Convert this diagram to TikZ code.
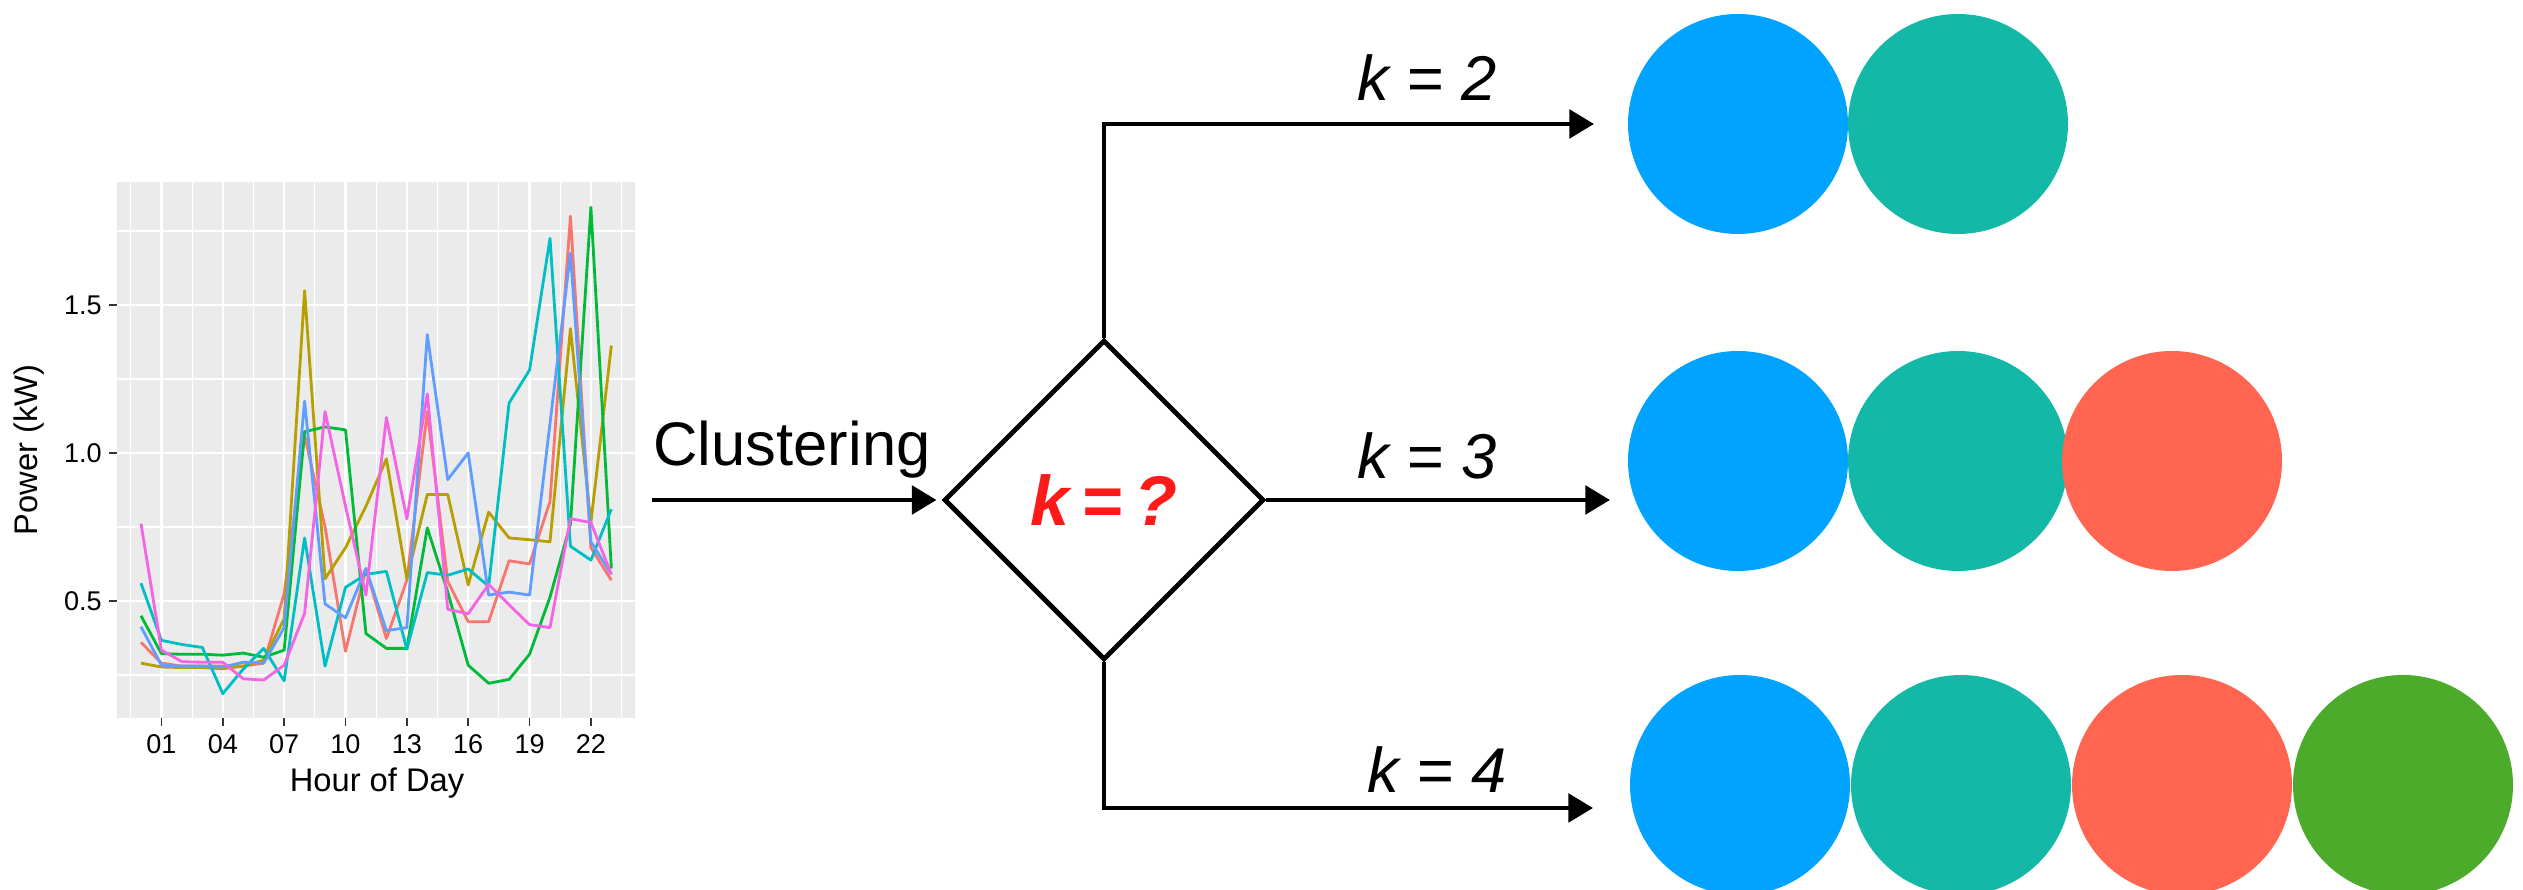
\documentclass[tikz,border=0pt]{standalone}
\usepackage{fontspec}
\setmainfont{Liberation Sans}
\usepackage{xcolor}
\usepackage{tikz}
\usetikzlibrary{positioning,arrows.meta,shapes.geometric}

\definecolor{gpanel}{HTML}{EBEBEB}
\definecolor{gtick}{HTML}{333333}
\definecolor{sred}{HTML}{F8766D}
\definecolor{solive}{HTML}{B79F00}
\definecolor{sgreen}{HTML}{00BA38}
\definecolor{scyan}{HTML}{00BFC4}
\definecolor{sblue}{HTML}{619CFF}
\definecolor{spink}{HTML}{F564E3}
\definecolor{cblue}{HTML}{00A3FF}
\definecolor{cteal}{HTML}{13B9A6}
\definecolor{cred}{HTML}{FF6550}
\definecolor{cgreen}{HTML}{4DAB2C}
\definecolor{kred}{HTML}{FF1A1A}

\begin{document}
\begin{tikzpicture}[>={Triangle[length=7pt,width=8pt]},
  blob/.style={circle,minimum size=2.2cm,inner sep=0pt,outer sep=0pt},
  decision/.style={diamond,draw,line width=1.4pt,minimum width=3.2cm,minimum height=3.2cm,inner sep=0pt,
    text=kred,font=\fontsize{20}{22}\selectfont\bfseries\itshape},
  flow/.style={->,line width=1.4pt},
  klabel/.style={anchor=base,font=\fontsize{18}{20}\selectfont\itshape},
  ticklab/.style={font=\fontsize{7.7}{9}\selectfont,inner sep=0pt},
  axtitle/.style={font=\fontsize{9.3}{11}\selectfont,inner sep=0pt},
  series/.style={line width=0.8pt,line join=round}]
  \useasboundingbox (0,0) rectangle (25.23,8.9);

  % load profiles, one line per household
  \begin{scope}[shift={(1.41,1.41)},x=0.2045cm,y=2.96cm]
    \fill[gpanel] (-1.15,0.103) rectangle (24.15,1.914);
    \foreach \v in {0.25,0.75,1.25,1.75}
      \draw[white,line width=0.35pt] (-1.15,\v) -- (24.15,\v);
    \foreach \t in {-0.5,2.5,...,23.5}
      \draw[white,line width=0.35pt] (\t,0.103) -- (\t,1.914);
    \foreach \v in {0.5,1.0,1.5}
      \draw[white,line width=0.7pt] (-1.15,\v) -- (24.15,\v);
    \foreach \t in {1,4,...,22}
      \draw[white,line width=0.7pt] (\t,0.103) -- (\t,1.914);

    \draw[series,sred] (0,0.36) \foreach \v [count=\t] in
      {0.29,0.28,0.28,0.28,0.28,0.29,0.524,1.06,0.75,0.33,0.608,0.373,0.57,1.14,0.566,0.43,0.43,0.636,0.625,0.836,1.80,0.68,0.57}
      { -- (\t,\v) };
    \draw[series,solive] (0,0.29) \foreach \v [count=\t] in
      {0.277,0.275,0.275,0.271,0.28,0.30,0.44,1.548,0.575,0.68,0.82,0.98,0.575,0.86,0.86,0.554,0.80,0.713,0.707,0.70,1.42,0.765,1.363}
      { -- (\t,\v) };
    \draw[series,sgreen] (0,0.45) \foreach \v [count=\t] in
      {0.322,0.32,0.32,0.317,0.324,0.31,0.334,1.072,1.088,1.078,0.39,0.34,0.34,0.747,0.53,0.283,0.222,0.235,0.32,0.513,0.76,1.83,0.61}
      { -- (\t,\v) };
    \draw[series,scyan] (0,0.56) \foreach \v [count=\t] in
      {0.367,0.353,0.343,0.187,0.27,0.34,0.23,0.713,0.28,0.546,0.59,0.60,0.337,0.596,0.587,0.608,0.55,1.169,1.28,1.725,0.685,0.638,0.81}
      { -- (\t,\v) };
    \draw[series,sblue] (0,0.413) \foreach \v [count=\t] in
      {0.283,0.28,0.28,0.277,0.293,0.29,0.41,1.175,0.49,0.443,0.61,0.40,0.41,1.40,0.91,1.0,0.52,0.53,0.52,1.1,1.675,0.70,0.59}
      { -- (\t,\v) };
    \draw[series,spink] (0,0.761) \foreach \v [count=\t] in
      {0.334,0.295,0.293,0.293,0.237,0.233,0.283,0.458,1.14,0.82,0.52,1.12,0.777,1.20,0.472,0.457,0.556,0.487,0.42,0.41,0.778,0.765,0.59}
      { -- (\t,\v) };

    % axes
    \foreach \v [count=\i] in {0.5,1.0,1.5} {
      \draw[gtick,line width=0.5pt] (-1.15,\v) -- ++(-0.08cm,0);
      \node[ticklab,anchor=east] (ylab\i) at ([xshift=-0.15cm]-1.15,\v) {\v};
    }
    \foreach \t/\s [count=\i] in {1/01,4/04,7/07,10/10,13/13,16/16,19/19,22/22} {
      \draw[gtick,line width=0.5pt] (\t,0.103) -- ++(0,-0.08cm);
      \node[ticklab,anchor=north] (xlab\i) at ([yshift=-0.15cm]\t,0.103) {\s};
    }
  \end{scope}
  \node[axtitle] (xtitle) at (3.77,1.07) {Hour of Day};
  \node[axtitle,rotate=90] (ytitle) at (0.29,4.40) {Power (kW)};

  % clustering step
  \coordinate (cstart) at (6.52,3.90);
  \node[decision] (kq) at (11.04,3.90) {k\,=\,?};
  \node[anchor=base,font=\fontsize{17.5}{20}\selectfont] (clus) at (7.92,4.245) {Clustering};
  \draw[flow,shorten >=0.05cm] (cstart) -- (kq.west);

  % branches
  \coordinate (t2) at (15.94,7.66);
  \coordinate (t3) at (16.10,3.90);
  \coordinate (t4) at (15.93,0.82);
  \draw[flow] (kq.north) |- (t2);
  \draw[flow] (kq.east) -- (t3);
  \draw[flow] (kq.south) |- (t4);
  \node[klabel] (k2) at (14.27,7.89) {k = 2};
  \node[klabel] (k3) at (14.27,4.11) {k = 3};
  \node[klabel] (k4) at (14.37,0.97) {k = 4};

  % resulting clusters
  \node[blob,fill=cblue] (a2) at (17.38,7.66) {};
  \node[blob,fill=cteal,right=0pt of a2] (b2) {};

  \node[blob,fill=cblue] (a3) at (17.38,4.29) {};
  \node[blob,fill=cteal,right=0pt of a3] (b3) {};
  \node[blob,fill=cred,right=-0.06cm of b3] (c3) {};

  \node[blob,fill=cblue] (a4) at (17.40,1.05) {};
  \node[blob,fill=cteal,right=0.01cm of a4] (b4) {};
  \node[blob,fill=cred,right=0.01cm of b4] (c4) {};
  \node[blob,fill=cgreen,right=0.01cm of c4] (d4) {};
\end{tikzpicture}
\end{document}
